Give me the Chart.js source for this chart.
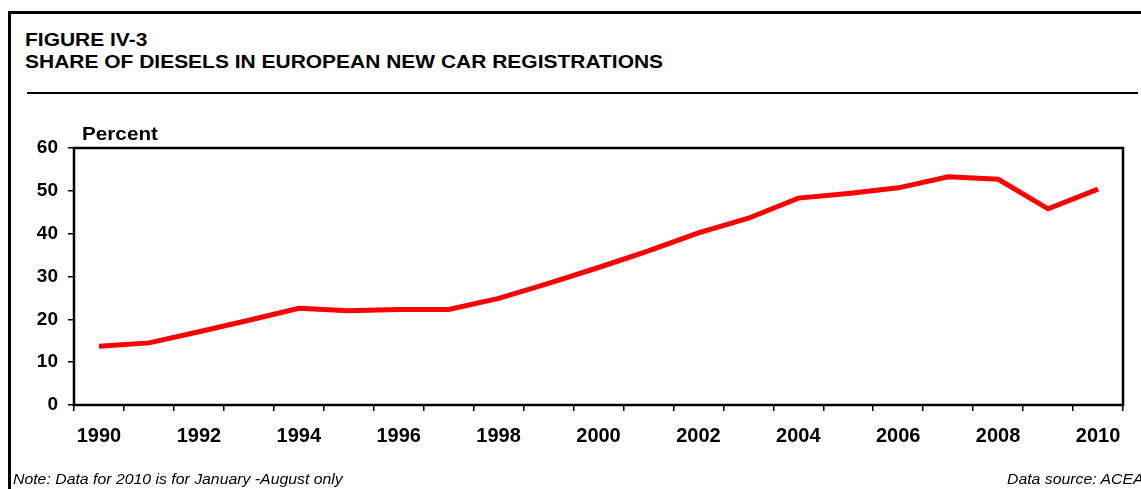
<!DOCTYPE html>
<html>
<head>
<meta charset="utf-8">
<script src="https://cdn.jsdelivr.net/npm/chart.js@4"></script>
<style>
  body { margin: 0; width: 1141px; height: 489px; overflow: hidden; background: #fff; position: relative; font-family: "Liberation Sans", Arial, sans-serif; }
  #frame { position: absolute; left: 8px; top: 11px; width: 1200px; height: 600px; border: 3px solid #000; }
  .txt { position: absolute; line-height: 1; white-space: nowrap; color: #000; transform-origin: 0 0; }
  .title { font-weight: bold; font-size: 18px; left: 25px; transform: scaleX(1.165); }
  #rule { position: absolute; left: 27px; top: 92px; width: 1111px; height: 2px; background: #000; }
  #chartBox { position: absolute; left: 0; top: 0; width: 1141px; height: 489px; }
  .note { font-style: italic; font-size: 14px; top: 472px; transform: scaleX(1.13); }
</style>
</head>
<body>
<div id="frame"></div>
<div class="txt title" style="top:31px">FIGURE IV-3</div>
<div class="txt title" style="top:53px">SHARE OF DIESELS IN EUROPEAN NEW CAR REGISTRATIONS</div>
<div id="rule"></div>
<div id="chartBox"><canvas id="dieselChart"></canvas></div>
<div class="txt" style="left:82px; top:125px; font-weight:bold; font-size:18px; transform:scaleX(1.15)">Percent</div>
<div class="txt note" style="left:13px">Note: Data for 2010 is for January -August only</div>
<div class="txt note" style="left:1007px">Data source: ACEA</div>
<script>
// valeurs
const years = ["1990", "1991", "1992", "1993", "1994", "1995", "1996", "1997", "1998", "1999", "2000",
  "2001", "2002", "2003", "2004", "2005", "2006", "2007", "2008", "2009", "2010"];
const dieselShare = [13.7, 14.5, 17.1, 19.8, 22.6, 22.0, 22.3, 22.3, 24.9, 28.4, 32.1,
  36.0, 40.2, 43.6, 48.3, 49.4, 50.7, 53.3, 52.7, 45.8, 50.4];
const yMin = 0;
const yMax = 60;
const yStep = 10;

const plotBox = {
  id: "plotBox",
  afterDraw(chart) {
    const a = chart.chartArea;
    const ctx = chart.ctx;
    ctx.save();
    ctx.strokeStyle = "#000";
    ctx.lineWidth = 2.5;
    ctx.strokeRect(a.left, a.top, a.right - a.left, a.bottom - a.top);
    ctx.restore();
  }
};

function renderChart() {
  const ctx = document.getElementById("dieselChart").getContext("2d");
  new Chart(ctx, {
    type: "line",
    data: {
      labels: years,
      datasets: [{
        label: "Diesel share",
        data: dieselShare,
        borderColor: "#ff0000",
        borderWidth: 5,
        pointRadius: 0,
        tension: 0,
        fill: false
      }]
    },
    options: {
      responsive: true,
      maintainAspectRatio: false,
      animation: false,
      layout: { padding: { left: 0, top: 148, right: 18, bottom: 34 } },
      plugins: {
        legend: { display: false },
        tooltip: { enabled: false }
      },
      scales: {
        x: {
          offset: true,
          border: { display: false },
          grid: { offset: true, drawOnChartArea: false, drawTicks: true, tickLength: 6, color: "#000", lineWidth: 1.5 },
          ticks: {
            autoSkip: false,
            maxRotation: 0,
            padding: 13,
            color: "#000",
            font: { family: "Liberation Sans", size: 20, weight: "bold" },
            callback: function (val, i) { return i % 2 === 0 ? years[i] : ""; }
          },
          afterFit: function (scale) { scale.height = 50; }
        },
        y: {
          min: yMin,
          max: yMax,
          border: { display: false },
          grid: { drawOnChartArea: false, drawTicks: true, tickLength: 6, color: "#000", lineWidth: 1.5 },
          ticks: {
            stepSize: yStep,
            padding: 10,
            color: "#000",
            font: { family: "Liberation Sans", size: 19, weight: "bold" }
          },
          afterFit: function (scale) { scale.width = 74; }
        }
      }
    },
    plugins: [plotBox]
  });
}

document.addEventListener("DOMContentLoaded", renderChart);
</script>
</body>
</html>
